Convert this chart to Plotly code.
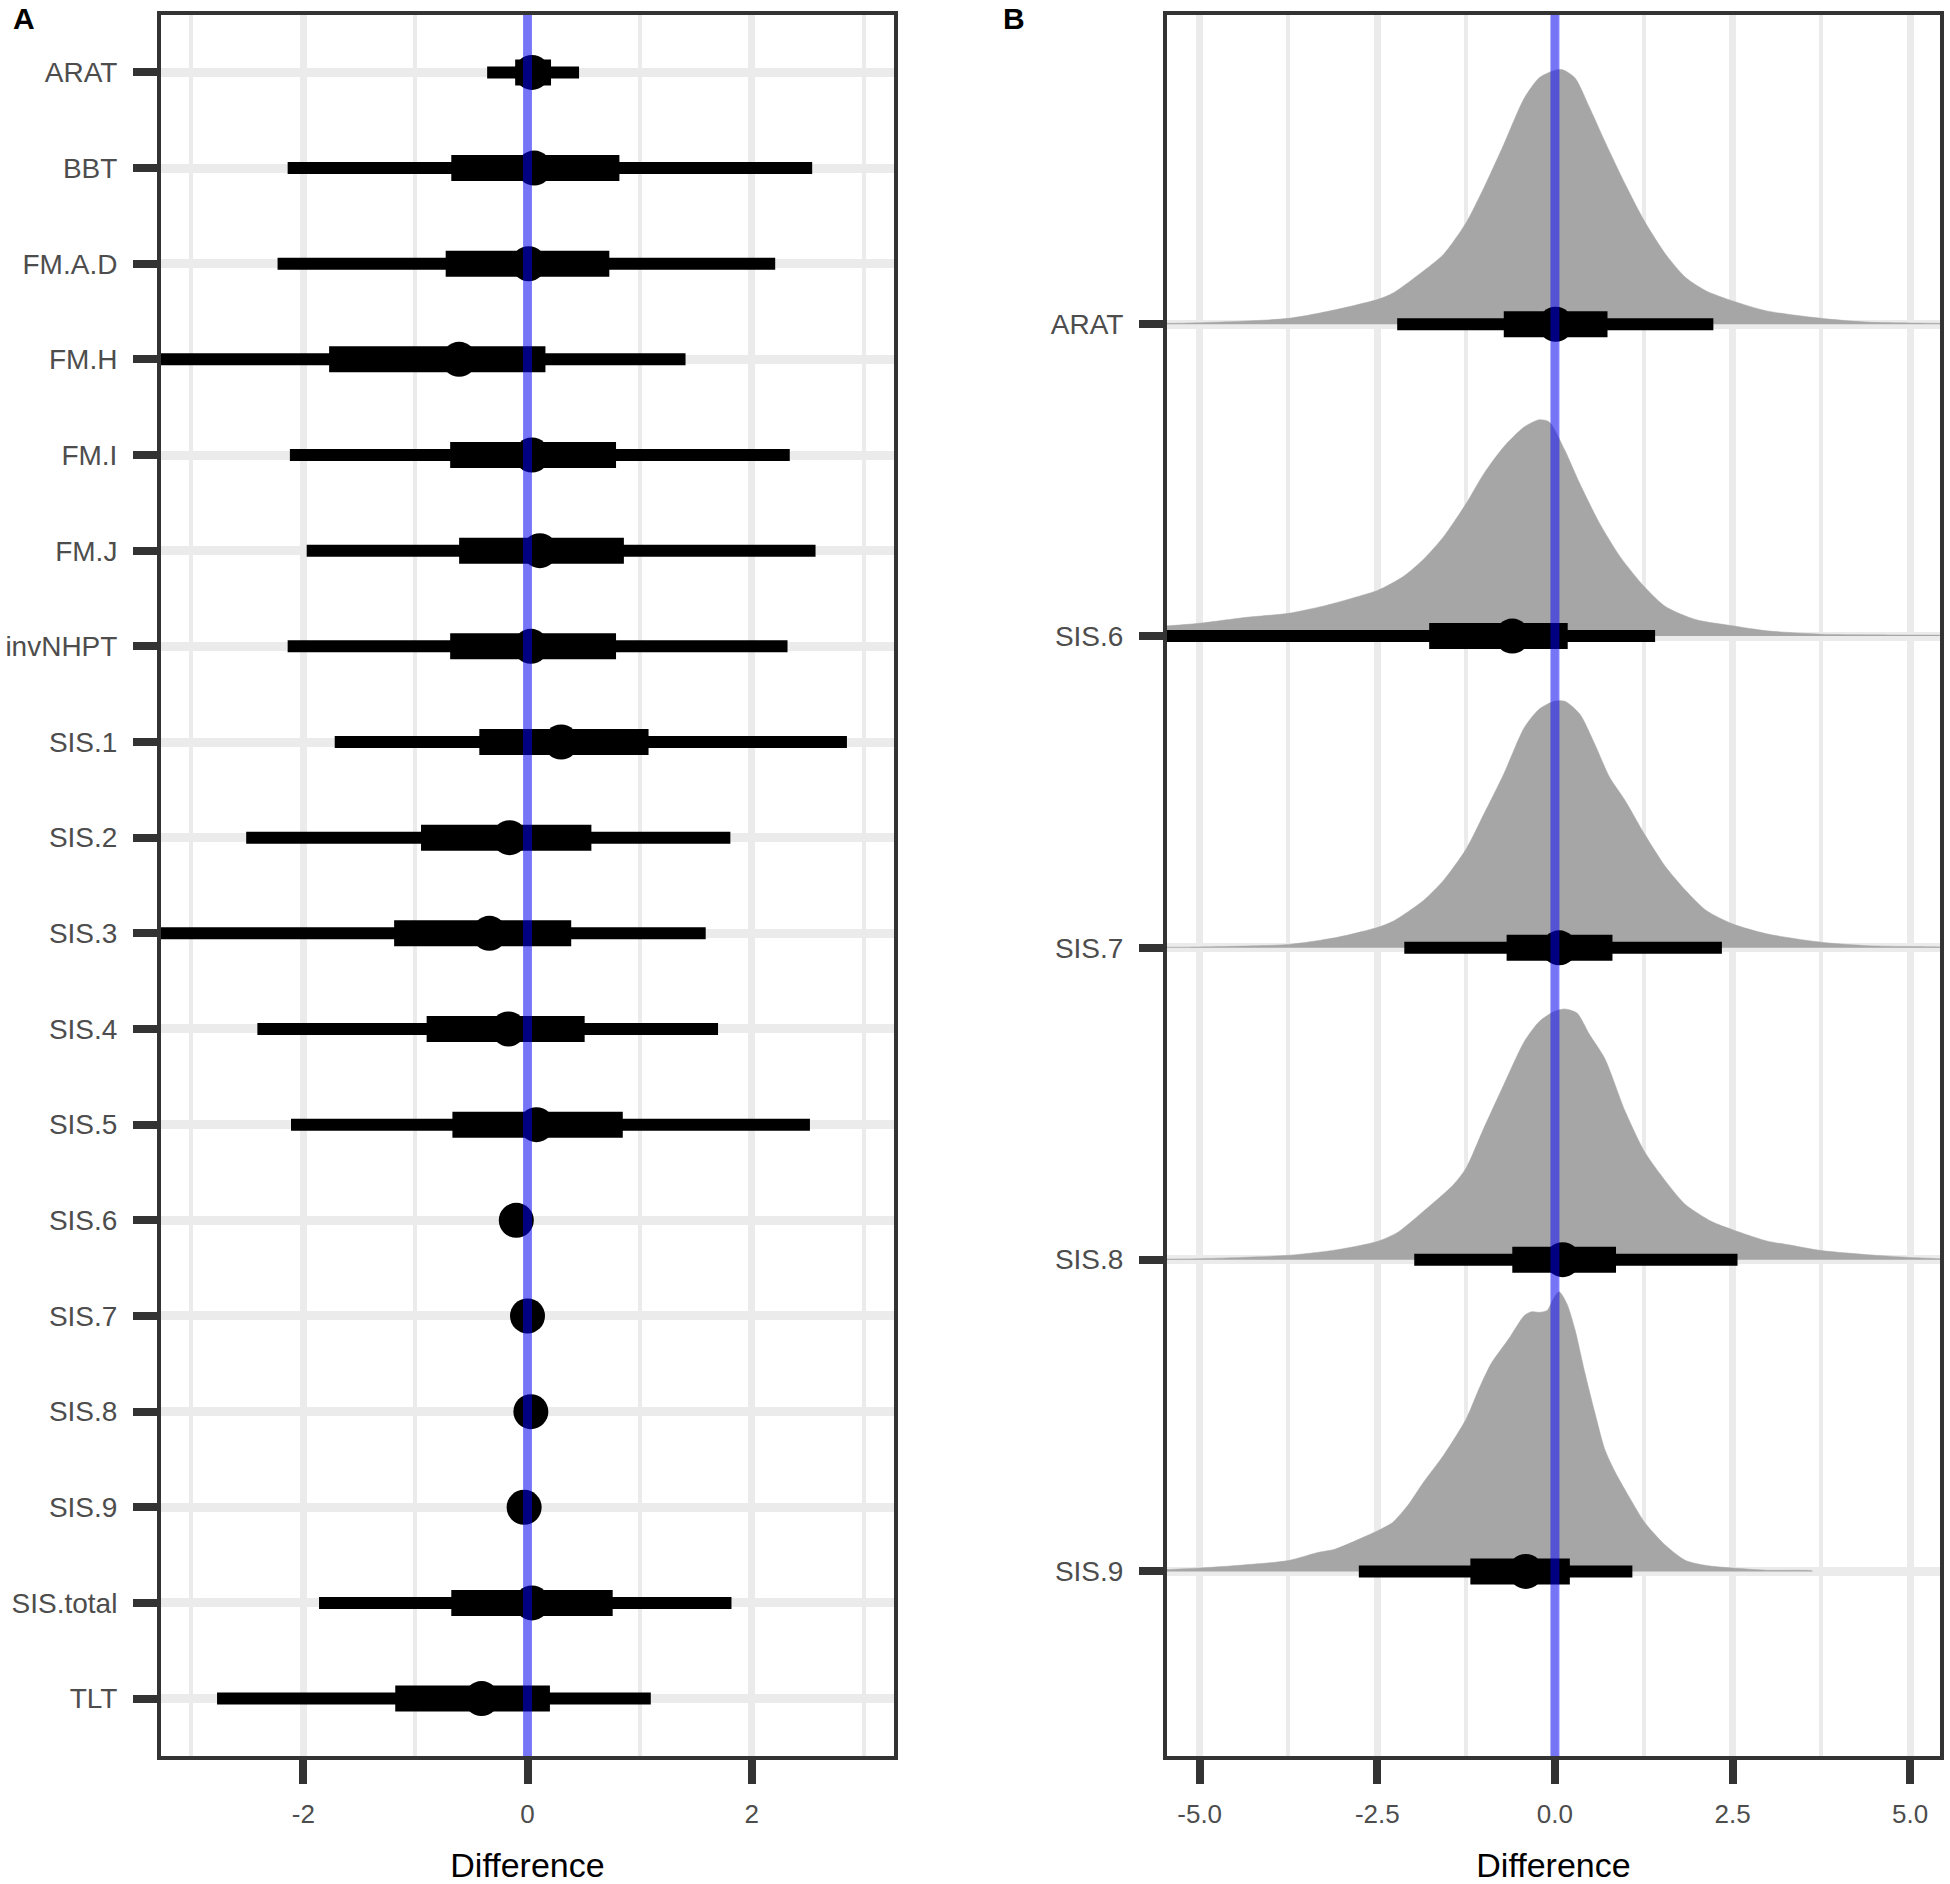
import plotly.graph_objects as go

# ---------------- Panel A data ----------------
cats_a = ["ARAT", "BBT", "FM.A.D", "FM.H", "FM.I", "FM.J", "invNHPT", "SIS.1", "SIS.2",
          "SIS.3", "SIS.4", "SIS.5", "SIS.6", "SIS.7", "SIS.8", "SIS.9", "SIS.total", "TLT"]
point_a = [0.04, 0.06, 0.01, -0.61, 0.04, 0.11, 0.03, 0.30, -0.16,
           -0.34, -0.17, 0.08, -0.10, 0.00, 0.03, -0.03, 0.04, -0.41]
lo66_a = [-0.11, -0.68, -0.73, -1.77, -0.69, -0.61, -0.69, -0.43, -0.95,
          -1.19, -0.90, -0.67, None, None, None, None, -0.68, -1.18]
hi66_a = [0.21, 0.82, 0.73, 0.16, 0.79, 0.86, 0.79, 1.08, 0.57,
          0.39, 0.51, 0.85, None, None, None, None, 0.76, 0.20]
lo95_a = [-0.36, -2.14, -2.23, -3.45, -2.12, -1.97, -2.14, -1.72, -2.51,
          -3.45, -2.41, -2.11, None, None, None, None, -1.86, -2.77]
hi95_a = [0.46, 2.54, 2.21, 1.41, 2.34, 2.57, 2.32, 2.85, 1.81,
          1.59, 1.70, 2.52, None, None, None, None, 1.82, 1.10]
xticks_a = [-2, 0, 2]
xticklabels_a = ["-2", "0", "2"]

# ---------------- Panel B data ----------------
cats_b = ["ARAT", "SIS.6", "SIS.7", "SIS.8", "SIS.9"]
point_b = [0.01, -0.60, 0.06, 0.11, -0.41]
lo66_b = [-0.72, -1.77, -0.68, -0.60, -1.19]
hi66_b = [0.74, 0.18, 0.81, 0.86, 0.21]
lo95_b = [-2.22, -5.90, -2.12, -1.98, -2.76]
hi95_b = [2.23, 1.41, 2.35, 2.57, 1.09]
xticks_b = [-5.0, -2.5, 0.0, 2.5, 5.0]
xticklabels_b = ["-5.0", "-2.5", "0.0", "2.5", "5.0"]

# density outlines (height in row units above each baseline)
dens_x_arat = [-5.6, -5.41, -5.00, -3.75, -3.06, -2.49, -2.28, -1.85, -1.57, -1.25, -1.00, -0.72,
               -0.43, -0.22, -0.01, 0.10, 0.28, 0.49, 0.70, 0.99, 1.26, 1.56, 1.84, 2.13,
               2.50, 2.98, 3.75, 4.40, 5.00, 5.43, 5.6]
dens_h_arat = [0.002, 0.003, 0.005, 0.019, 0.048, 0.080, 0.100, 0.171, 0.224, 0.326, 0.438, 0.577,
               0.726, 0.791, 0.814, 0.817, 0.791, 0.694, 0.588, 0.449, 0.331, 0.224, 0.150, 0.107,
               0.075, 0.043, 0.019, 0.007, 0.004, 0.003, 0.002]

dens_x_sis6 = [-5.9, -5.44, -5.00, -4.34, -3.75, -3.21, -2.71, -2.49, -2.14, -1.86, -1.57, -1.25,
               -1.00, -0.72, -0.43, -0.22, -0.08, 0.14, 0.35, 0.63, 0.92, 1.26, 1.56, 1.98,
               2.50, 2.98, 3.75, 4.40, 5.43, 5.6]
dens_h_sis6 = [0.026, 0.033, 0.041, 0.060, 0.073, 0.099, 0.131, 0.147, 0.190, 0.244, 0.318, 0.425,
               0.521, 0.607, 0.671, 0.694, 0.687, 0.596, 0.489, 0.361, 0.254, 0.158, 0.094, 0.053,
               0.033, 0.017, 0.006, 0.004, 0.003, 0.003]

dens_x_sis7 = [-5.6, -5.41, -5.00, -3.75, -3.06, -2.49, -2.28, -1.85, -1.57, -1.25, -1.00, -0.72,
               -0.43, -0.22, -0.01, 0.14, 0.35, 0.56, 0.77, 0.99, 1.26, 1.56, 1.84, 2.13,
               2.50, 2.98, 3.75, 4.40, 5.00, 5.43, 5.6]
dens_h_sis7 = [0.002, 0.002, 0.003, 0.011, 0.034, 0.066, 0.085, 0.152, 0.216, 0.317, 0.429, 0.558,
               0.707, 0.766, 0.791, 0.791, 0.750, 0.654, 0.547, 0.472, 0.365, 0.259, 0.184, 0.120,
               0.077, 0.045, 0.018, 0.007, 0.004, 0.003, 0.002]

dens_x_sis8 = [-5.6, -5.41, -5.00, -3.75, -3.06, -2.49, -2.21, -1.85, -1.43, -1.25, -1.00, -0.72,
               -0.43, -0.22, -0.01, 0.14, 0.31, 0.49, 0.70, 0.99, 1.26, 1.56, 1.84, 2.20,
               2.50, 2.98, 3.33, 3.75, 4.40, 5.00, 5.43, 5.6]
dens_h_sis8 = [0.002, 0.002, 0.003, 0.014, 0.032, 0.059, 0.088, 0.155, 0.240, 0.294, 0.422, 0.561,
               0.700, 0.764, 0.796, 0.804, 0.791, 0.721, 0.646, 0.475, 0.347, 0.251, 0.176, 0.123,
               0.096, 0.060, 0.046, 0.029, 0.016, 0.007, 0.003, 0.002]

dens_x_sis9 = [-5.6, -5.44, -5.00, -4.48, -3.75, -3.35, -3.10, -2.85, -2.49, -2.28, -2.07, -1.85,
               -1.57, -1.25, -1.07, -0.90, -0.65, -0.43, -0.33, -0.22, -0.11, -0.01, 0.06, 0.17,
               0.28, 0.42, 0.56, 0.70, 0.85, 1.06, 1.26, 1.56, 1.84, 2.13, 2.50, 2.98, 3.62]
dens_h_sis9 = [0.005, 0.006, 0.011, 0.019, 0.035, 0.060, 0.071, 0.094, 0.131, 0.158, 0.212, 0.286,
               0.372, 0.489, 0.585, 0.666, 0.746, 0.821, 0.833, 0.831, 0.837, 0.879, 0.897, 0.858,
               0.778, 0.639, 0.511, 0.393, 0.318, 0.233, 0.158, 0.083, 0.035, 0.019, 0.011, 0.004, 0.002]

dens_x_list = [dens_x_arat, dens_x_sis6, dens_x_sis7, dens_x_sis8, dens_x_sis9]
dens_h_list = [dens_h_arat, dens_h_sis6, dens_h_sis7, dens_h_sis8, dens_h_sis9]

# ---------------- styling ----------------
W, H = 1950, 1884
FONT = "Liberation Sans, Arial, Helvetica, sans-serif"
TICK_COL = "#4D4D4D"
AX_COL = "#333333"
GRID = "#EBEBEB"
BLUE = "rgba(0,0,255,0.5)"
SLAB = "#A6A6A6"
THIN_W, THICK_W, PT_SIZE = 12, 26, 35

fig = go.Figure()

n_a = len(cats_a)
ypos_a = [n_a - i for i in range(n_a)]
n_b = len(cats_b)
ypos_b = [n_b - i for i in range(n_b)]


def seg_lists(lo, hi, ypos):
    xs, ys = [], []
    for l, h, y in zip(lo, hi, ypos):
        if l is None or h is None:
            continue
        xs += [l, h, None]
        ys += [y, y, None]
    return xs, ys


# ---- Panel A ----
x95, y95 = seg_lists(lo95_a, hi95_a, ypos_a)
fig.add_trace(go.Scatter(x=x95, y=y95, mode="lines", line=dict(color="black", width=THIN_W),
                         xaxis="x", yaxis="y", showlegend=False, hoverinfo="skip"))
x66, y66 = seg_lists(lo66_a, hi66_a, ypos_a)
fig.add_trace(go.Scatter(x=x66, y=y66, mode="lines", line=dict(color="black", width=THICK_W),
                         xaxis="x", yaxis="y", showlegend=False, hoverinfo="skip"))
fig.add_trace(go.Scatter(x=point_a, y=ypos_a, mode="markers",
                         marker=dict(color="black", size=PT_SIZE, line=dict(width=0)),
                         xaxis="x", yaxis="y", showlegend=False))
yr_a = [0.4, n_a + 0.6]
fig.add_trace(go.Scatter(x=[0, 0], y=yr_a, mode="lines", line=dict(color=BLUE, width=9),
                         xaxis="x", yaxis="y", showlegend=False, hoverinfo="skip"))

# ---- Panel B ----
for xs, hs, y0 in zip(dens_x_list, dens_h_list, ypos_b):
    px = [xs[0]] + list(xs) + [xs[-1]]
    py = [y0] + [y0 + h for h in hs] + [y0]
    fig.add_trace(go.Scatter(x=px, y=py, mode="lines", fill="toself", fillcolor=SLAB,
                             line=dict(color=SLAB, width=0.5, shape="spline", smoothing=0.7),
                             xaxis="x2", yaxis="y2", showlegend=False, hoverinfo="skip"))
x95b, y95b = seg_lists(lo95_b, hi95_b, ypos_b)
fig.add_trace(go.Scatter(x=x95b, y=y95b, mode="lines", line=dict(color="black", width=THIN_W),
                         xaxis="x2", yaxis="y2", showlegend=False, hoverinfo="skip"))
x66b, y66b = seg_lists(lo66_b, hi66_b, ypos_b)
fig.add_trace(go.Scatter(x=x66b, y=y66b, mode="lines", line=dict(color="black", width=THICK_W),
                         xaxis="x2", yaxis="y2", showlegend=False, hoverinfo="skip"))
fig.add_trace(go.Scatter(x=point_b, y=ypos_b, mode="markers",
                         marker=dict(color="black", size=PT_SIZE, line=dict(width=0)),
                         xaxis="x2", yaxis="y2", showlegend=False))
yr_b = [0.408, n_b + 0.992]
fig.add_trace(go.Scatter(x=[0, 0], y=yr_b, mode="lines", line=dict(color=BLUE, width=9),
                         xaxis="x2", yaxis="y2", showlegend=False, hoverinfo="skip"))

ydom = [1 - 1756 / H, 1 - 15 / H]


def xaxis_cfg(dom, rng, tv, tt, minor_vals):
    return dict(domain=dom, range=rng, tickvals=tv, ticktext=tt,
                showgrid=True, gridcolor=GRID, gridwidth=7, zeroline=False,
                minor=dict(tickvals=minor_vals, showgrid=True, gridcolor=GRID, gridwidth=3.5),
                showline=True, mirror=True, linecolor=AX_COL, linewidth=4,
                ticks="outside", ticklen=24, tickwidth=8, tickcolor=AX_COL,
                tickfont=dict(family=FONT, size=26, color=TICK_COL), ticklabelstandoff=8,
                title=dict(text="Difference", font=dict(family=FONT, size=34, color="black"),
                           standoff=26),
                automargin=False, fixedrange=True)


def yaxis_cfg(anchor, rng, tv, tt):
    return dict(domain=ydom, range=rng, tickvals=tv, ticktext=tt, anchor=anchor,
                showgrid=True, gridcolor=GRID, gridwidth=9, zeroline=False,
                showline=True, mirror=True, linecolor=AX_COL, linewidth=4,
                ticks="outside", ticklen=24, tickwidth=8, tickcolor=AX_COL,
                tickfont=dict(family=FONT, size=28, color=TICK_COL), ticklabelstandoff=10,
                automargin=False, fixedrange=True)


fig.update_layout(
    width=W, height=H,
    margin=dict(l=0, r=0, t=0, b=0, pad=0),
    paper_bgcolor="white", plot_bgcolor="white",
    showlegend=False,
    xaxis=dict(**xaxis_cfg([161 / W, 894 / W], [-3.27, 3.27], xticks_a, xticklabels_a,
                           [-3, -1, 1, 3]), anchor="y"),
    yaxis=yaxis_cfg("x", yr_a, ypos_a, cats_a),
    xaxis2=dict(**xaxis_cfg([1167 / W, 1940 / W], [-5.46, 5.42], xticks_b, xticklabels_b,
                            [-3.75, -1.25, 1.25, 3.75]), anchor="y2"),
    yaxis2=yaxis_cfg("x2", yr_b, ypos_b, cats_b),
    annotations=[
        dict(text="<b>A</b>", x=11 / W, y=1 - 0 / H, xref="paper", yref="paper",
             xanchor="left", yanchor="top", showarrow=False,
             font=dict(family=FONT, size=30, color="black")),
        dict(text="<b>B</b>", x=1001 / W, y=1 - 0 / H, xref="paper", yref="paper",
             xanchor="left", yanchor="top", showarrow=False,
             font=dict(family=FONT, size=30, color="black")),
    ],
)

fig.write_html(
    "out.html",
    config={"displayModeBar": False},
    post_script="document.body.style.margin='0px';document.body.style.overflow='hidden';",
)
